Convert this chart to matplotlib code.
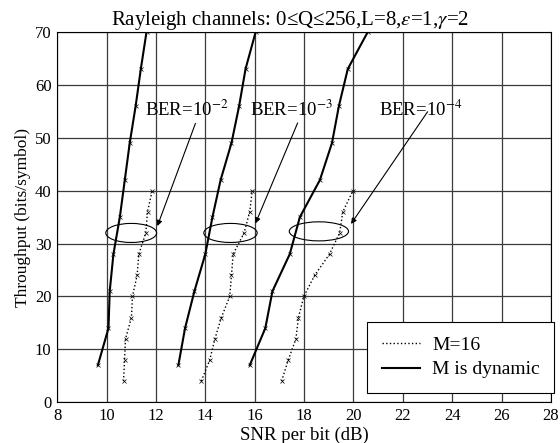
import matplotlib.pyplot as plt
from matplotlib.patches import Ellipse
from matplotlib.lines import Line2D

plt.rcParams['font.family'] = ['Liberation Serif', 'DejaVu Serif']
plt.rcParams['mathtext.fontset'] = 'stix'

# Datos
thr_dyn = [7, 14, 21, 28, 35, 42, 49, 56, 63, 70]
thr_m16 = [4, 8, 12, 16, 20, 24, 28, 32, 36, 40]

snr_dyn_ber2 = [9.65, 10.08, 10.13, 10.28, 10.54, 10.74, 10.94, 11.18, 11.39, 11.62]
snr_m16_ber2 = [10.69, 10.73, 10.77, 11.01, 11.05, 11.24, 11.31, 11.59, 11.66, 11.85]

snr_dyn_ber3 = [12.91, 13.18, 13.56, 14.0, 14.29, 14.62, 15.06, 15.37, 15.63, 16.04]
snr_m16_ber3 = [13.84, 14.18, 14.39, 14.65, 14.99, 15.06, 15.13, 15.57, 15.8, 15.9]

snr_dyn_ber4 = [15.8, 16.43, 16.72, 17.42, 17.83, 18.64, 19.13, 19.41, 19.77, 20.58]
snr_m16_ber4 = [17.09, 17.36, 17.67, 17.77, 17.99, 18.43, 19.03, 19.44, 19.57, 19.98]

ber_labels = ['BER=10$^{-2}$', 'BER=10$^{-3}$', 'BER=10$^{-4}$']
label_pos = [(11.55, 55.3), (15.8, 55.3), (21.05, 55.3)]
arrow_start = [(13.6, 52.7), (17.74, 52.8), (23.0, 54.9)]
arrow_end = [(12.06, 33.3), (16.03, 33.8), (19.9, 33.7)]
ellipse_center = [(11.0, 32.0), (15.02, 32.0), (18.6, 32.3)]
ellipse_width = [2.06, 2.16, 2.4]

fig = plt.figure(figsize=(5.6, 4.43), dpi=100)
ax = fig.add_axes([0.102, 0.092, 0.882, 0.836])

for xd, xm in [(snr_dyn_ber2, snr_m16_ber2), (snr_dyn_ber3, snr_m16_ber3),
               (snr_dyn_ber4, snr_m16_ber4)]:
    ax.plot(xd, thr_dyn, color='black', lw=1.5, marker='x', ms=3.5, mew=0.5)
    ax.plot(xm, thr_m16, color='black', lw=1.0, ls=':', marker='x', ms=3.5, mew=0.5)

for lab, pos, a0, a1, c, w in zip(ber_labels, label_pos, arrow_start, arrow_end,
                                  ellipse_center, ellipse_width):
    ax.text(pos[0], pos[1], lab, fontsize=13.5, va='center', ha='left')
    ax.annotate('', xy=a1, xytext=a0,
                arrowprops=dict(arrowstyle='-|>', color='black', lw=0.8,
                                mutation_scale=8, shrinkA=0, shrinkB=0))
    ax.add_patch(Ellipse(c, w, 3.6, fill=False, edgecolor='black', lw=0.8))

ax.set_xlim(8, 28)
ax.set_ylim(0, 70)
ax.set_xticks(range(8, 29, 2))
ax.set_yticks(range(0, 71, 10))
ax.tick_params(direction='in', length=0, labelsize=12, pad=4)
ax.grid(True, color='#3a3a3a', lw=0.9)
ax.set_axisbelow(True)

ax.set_title('Rayleigh channels: 0≤Q≤256,L=8,$\\varepsilon$=1,$\\gamma$=2',
             fontsize=15, pad=1, x=0.472)
ax.set_xlabel('SNR per bit (dB)', fontsize=13.5, labelpad=2)
ax.set_ylabel('Throughput (bits/symbol)', fontsize=12.5, labelpad=3)

handles = [Line2D([], [], color='black', lw=1.0, ls=':'),
           Line2D([], [], color='black', lw=1.5)]
leg = ax.legend(handles, ['M=16', 'M is dynamic'], loc='lower right', fontsize=14,
                fancybox=False, edgecolor='black', framealpha=1,
                bbox_to_anchor=(1.007, 0.025), borderaxespad=0,
                handlelength=1.95, handletextpad=0.65, labelspacing=0.35,
                borderpad=0.75)
leg.get_frame().set_linewidth(0.8)

plt.savefig('out.png', dpi=100)
